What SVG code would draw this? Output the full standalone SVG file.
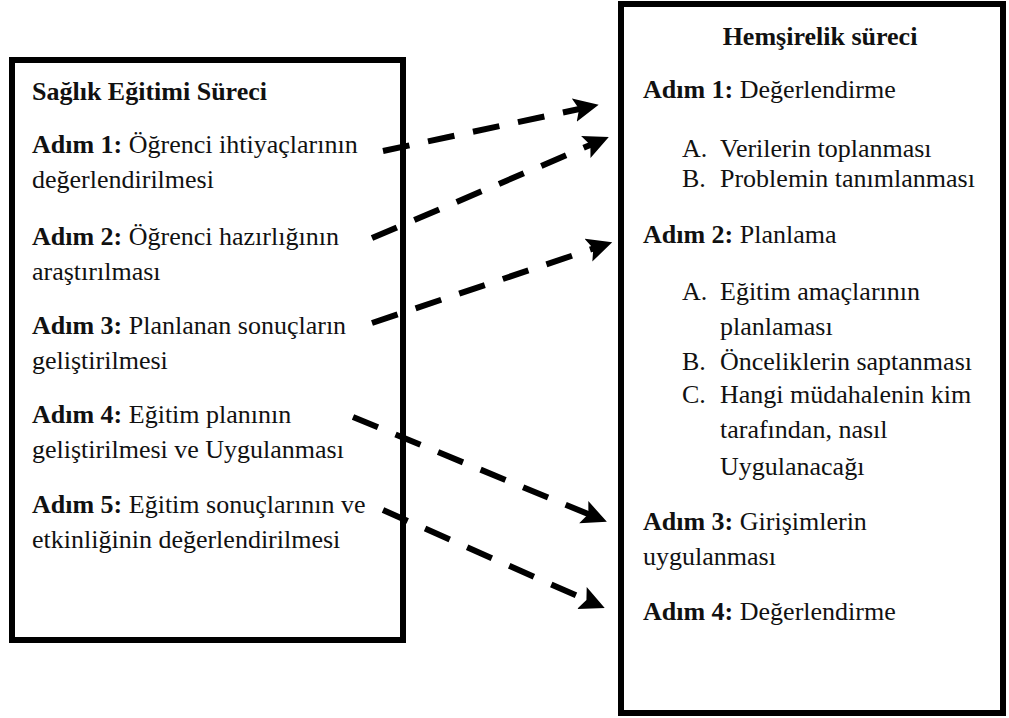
<svg xmlns="http://www.w3.org/2000/svg" width="1009" height="718" viewBox="0 0 1009 718">
<style>
.box{fill:#fff;stroke:#000;stroke-width:6}
text{font-family:'Liberation Serif','DejaVu Serif',serif;font-size:26px;fill:#111}
.b{font-weight:bold}
.arr{fill:none;stroke:#000;stroke-width:6;stroke-dasharray:27 19;marker-end:url(#ah)}
</style>
<defs>
<marker id="ah" markerUnits="userSpaceOnUse" markerWidth="26" markerHeight="26" refX="10" refY="12" orient="auto" viewBox="0 0 26 24">
<path d="M0,0 L25,12 L0,24 L5,12 z" fill="#000"/>
</marker>
</defs>
<rect width="1009" height="718" fill="#fff"/>
<g id="saglik-egitimi">
<rect class="box" x="12" y="60" width="391" height="580"/>
<text x="32" y="100" class="b">Sağlık Eğitimi Süreci</text>
<text x="32" y="153"><tspan class="b">Adım 1:</tspan> Öğrenci ihtiyaçlarının</text>
<text x="32" y="188">değerlendirilmesi</text>
<text x="32" y="245"><tspan class="b">Adım 2:</tspan> Öğrenci hazırlığının</text>
<text x="32" y="280">araştırılması</text>
<text x="32" y="334"><tspan class="b">Adım 3:</tspan> Planlanan sonuçların</text>
<text x="32" y="369">geliştirilmesi</text>
<text x="32" y="423"><tspan class="b">Adım 4:</tspan> Eğitim planının</text>
<text x="32" y="458">geliştirilmesi ve Uygulanması</text>
<text x="32" y="513"><tspan class="b">Adım 5:</tspan> Eğitim sonuçlarının ve</text>
<text x="32" y="548">etkinliğinin değerlendirilmesi</text>
</g>
<g id="hemsirelik">
<rect class="box" x="621" y="4" width="382" height="709"/>
<text x="820" y="45" class="b" text-anchor="middle">Hemşirelik süreci</text>
<text x="643" y="98"><tspan class="b">Adım 1:</tspan> Değerlendirme</text>
<text y="157"><tspan x="682">A.</tspan><tspan x="720">Verilerin toplanması</tspan></text>
<text y="187"><tspan x="682">B.</tspan><tspan x="720">Problemin tanımlanması</tspan></text>
<text x="643" y="243"><tspan class="b">Adım 2:</tspan> Planlama</text>
<text y="300"><tspan x="682">A.</tspan><tspan x="720">Eğitim amaçlarının</tspan></text>
<text x="720" y="335">planlaması</text>
<text y="370"><tspan x="682">B.</tspan><tspan x="720">Önceliklerin saptanması</tspan></text>
<text y="403"><tspan x="682">C.</tspan><tspan x="720">Hangi müdahalenin kim</tspan></text>
<text x="720" y="438">tarafından, nasıl</text>
<text x="720" y="475">Uygulanacağı</text>
<text x="643" y="530"><tspan class="b">Adım 3:</tspan> Girişimlerin</text>
<text x="643" y="565">uygulanması</text>
<text x="643" y="620"><tspan class="b">Adım 4:</tspan> Değerlendirme</text>
</g>
<g id="connectors">
<path class="arr" d="M383,151 L584,108"/>
<path class="arr" d="M372,238 L595,143"/>
<path class="arr" d="M372,323 L598,247"/>
<path class="arr" d="M353,417 L593,516"/>
<path class="arr" d="M383,510 L591,602"/>
</g>
</svg>
